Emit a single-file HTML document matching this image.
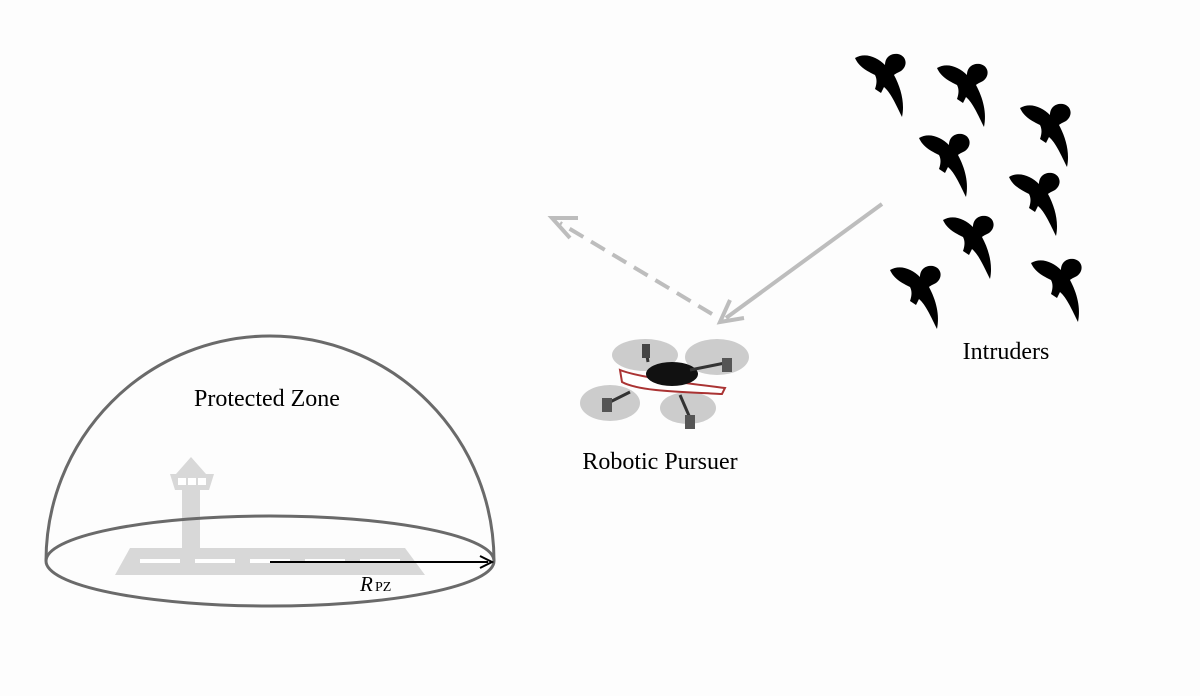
<!DOCTYPE html>
<html><head><style>body{margin:0;background:#fdfdfd}svg{display:block}</style></head>
<body>
<svg width="1200" height="696" viewBox="0 0 1200 696" xmlns="http://www.w3.org/2000/svg" font-family="Liberation Serif, serif">
<rect width="1200" height="696" fill="#fdfdfd"/>
<defs>
<path id="b" d="M0,5 C10,-1 22,4 30,12 C30,4 36,0 43,1 C52,3 53,13 46,18 C42,20 40,21 39,22 C46,35 50,50 47,64 C41,52 36,40 29,34 L26,40 L20,36 C22,30 22,26 20,22 C12,18 4,14 0,5 Z" fill="#000"/>
</defs>
<use href="#b" x="855" y="53"/>
<use href="#b" x="937" y="63"/>
<use href="#b" x="1020" y="103"/>
<use href="#b" x="919" y="133"/>
<use href="#b" x="1009" y="172"/>
<use href="#b" x="943" y="215"/>
<use href="#b" x="890" y="265"/>
<use href="#b" x="1031" y="258"/>
<text x="1006" y="359" font-size="24" text-anchor="middle">Intruders</text>
<g stroke="#bdbdbd" stroke-width="4" fill="none">
<line x1="882" y1="204" x2="726" y2="318"/>
<polyline points="730,300 720,322 744,318"/>
<line x1="712" y1="314" x2="560" y2="223" stroke-dasharray="16,9"/>
<polyline points="570,238 552,218 578,218"/>
</g>
<g>
<ellipse cx="645" cy="355" rx="33" ry="16" fill="#ccc"/>
<ellipse cx="717" cy="357" rx="32" ry="18" fill="#ccc"/>
<ellipse cx="610" cy="403" rx="30" ry="18" fill="#ccc"/>
<ellipse cx="688" cy="408" rx="28" ry="16" fill="#ccc"/>
<path d="M620,370 C640,378 700,385 725,388 L722,394 C690,392 640,392 622,382 Z" fill="#fff" stroke="#a33" stroke-width="2"/>
<ellipse cx="672" cy="374" rx="26" ry="12" fill="#111"/>
<g stroke="#333" stroke-width="3"><line x1="630" y1="392" x2="606" y2="404"/><line x1="690" y1="370" x2="725" y2="363"/><line x1="680" y1="395" x2="690" y2="418"/><line x1="648" y1="362" x2="646" y2="350"/></g>
<rect x="602" y="398" width="10" height="14" fill="#555"/><rect x="722" y="358" width="10" height="14" fill="#555"/><rect x="685" y="415" width="10" height="14" fill="#555"/><rect x="642" y="344" width="8" height="14" fill="#444"/>
</g>
<text x="660" y="469" font-size="24" text-anchor="middle">Robotic Pursuer</text>
<g fill="#d8d8d8">
<polygon points="130,548 405,548 425,575 115,575"/>
<rect x="182" y="488" width="18" height="62"/>
<polygon points="191,457 206,474 176,474"/>
<polygon points="170,474 214,474 209,490 175,490"/>
</g>
<g fill="#fff"><rect x="178" y="478" width="8" height="7"/><rect x="188" y="478" width="8" height="7"/><rect x="198" y="478" width="8" height="7"/>
<rect x="140" y="559" width="40" height="4"/><rect x="195" y="559" width="40" height="4"/><rect x="250" y="559" width="40" height="4"/><rect x="305" y="559" width="40" height="4"/><rect x="360" y="559" width="40" height="4"/></g>
<g fill="none" stroke="#6a6a6a" stroke-width="3">
<ellipse cx="270" cy="561" rx="224" ry="45"/>
<path d="M46,561 A224,225 0 0 1 494,561"/>
</g>
<line x1="270" y1="562" x2="488" y2="562" stroke="#000" stroke-width="2"/>
<polyline points="480,556 492,562 480,568" fill="none" stroke="#000" stroke-width="2"/>
<text x="360" y="591" font-size="21" font-style="italic">R</text><text x="375" y="591" font-size="14">PZ</text>
<text x="267" y="406" font-size="24" text-anchor="middle">Protected Zone</text>
</svg>
</body></html>
